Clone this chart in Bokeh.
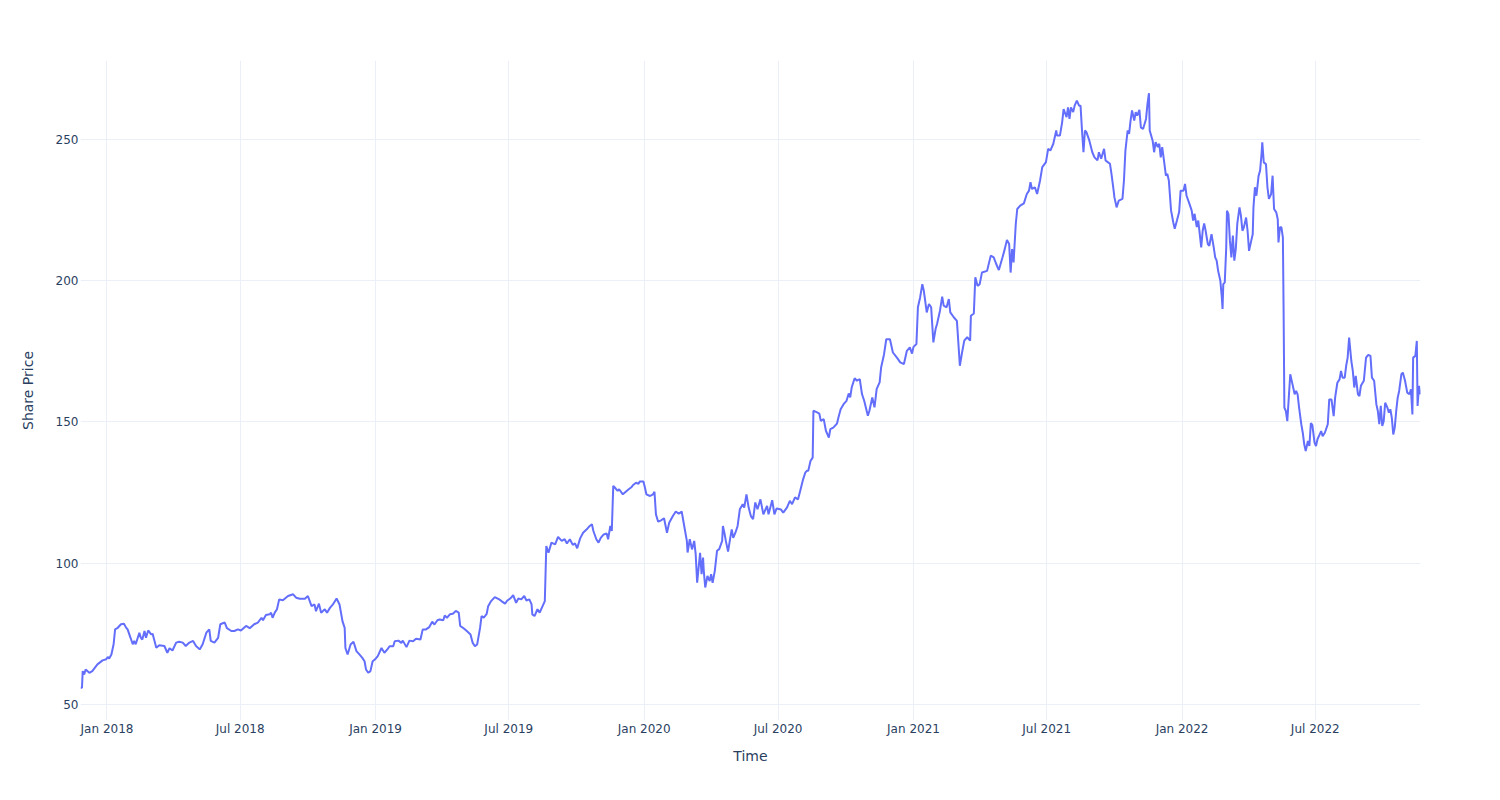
import numpy as np
import pandas as pd
from bokeh.plotting import figure
from bokeh.models import Range1d, FixedTicker, DatetimeTickFormatter
from bokeh.embed import file_html
from bokeh.resources import INLINE

# Share price series: days since 2018-01-01 and price, by section
days_2018 = [-36,-34,-33,-31,-29,-24,-20,-13,-6,-1,1,3,6,9,11,14,19,23,26,28,32,35,37,39,44,46,48,51,53,56,60,62,67,71,78,82,85,89,94,98,103,107,112,117,121,126,130,135,139,141,146,151,154,160,163,169,173,178,182,189,194,200,205,210,212,216,221,223,225,228,231,234,239,246,253,257]
price_2018 = [55.9,55.9,61.8,60.6,62.4,61.2,61.8,64.2,65.6,66.0,66.8,66.3,67.7,71.3,76.6,77.0,78.4,78.6,77.2,76.6,73.6,71.3,72.5,71.3,75.4,73.6,73.0,76.0,73.6,76.2,74.8,75.0,70.1,71.0,70.7,68.3,69.9,69.1,71.9,72.2,71.9,70.7,71.9,72.5,70.7,69.5,71.3,75.4,76.6,72.5,71.9,73.6,78.4,79.0,77.0,76.0,76.0,76.6,76.2,77.8,77.0,78.4,79.0,80.7,79.8,81.7,81.9,82.5,80.7,82.5,83.7,87.2,86.9,88.4,89.0,87.8]

days_2019 = [262,269,273,278,282,284,288,291,296,299,303,307,312,316,320,323,324,327,331,335,339,343,347,350,352,355,358,361,364,368,373,377,381,384,389,391,396,400,402,407,411,416,420,426,429,433,438,442,445,449,452,457,459,462,466,470,474,478,480,485,489,494,497,500,503,507,509,512,516,518,522,527,533,536,541,544,548,552,556,559,563,567,570,574,577,578,581,585,588]
price_2019 = [87.4,87.4,88.4,84.8,85.4,83.0,85.7,82.5,83.7,82.5,84.2,85.4,87.5,85.4,79.5,77.1,70.0,67.7,71.2,72.2,68.9,67.7,66.5,65.3,62.4,61.2,61.8,65.3,65.9,67.1,70.0,68.3,69.5,70.6,70.6,72.4,72.6,71.8,72.6,70.3,72.6,72.4,73.3,73.0,76.5,76.5,77.4,79.3,78.3,79.8,80.1,79.8,81.5,80.7,81.9,82.1,83.1,82.5,77.8,76.9,76.0,74.8,71.8,70.6,71.2,77.1,81.3,80.7,82.1,84.8,86.6,88.0,87.2,86.6,85.7,86.8,87.5,88.7,86.0,87.5,87.2,88.4,86.8,87.2,85.4,81.9,81.3,83.7,82.5]

days_2020 = [595,597,600,604,609,613,618,622,625,629,633,636,639,643,647,652,656,659,661,665,668,671,675,679,681,684,686,688,690,694,696,701,705,709,713,715,719,722,724,729,731,733,738,742,744,746,749,753,757,761,764,769,773,777,781,784,788,789,792,795,798,800,802,804,806,808,810,811,813,816,819,821,823,826,829,832,836,837,839,841,844,847,849,851,854,857,860,864,866,869,872,875,878,881,884]
price_2020 = [86.6,106.1,103.7,107.3,106.7,109.3,107.9,108.5,107.0,108.5,106.5,107.0,105.3,108.8,110.8,112.0,113.2,113.8,111.4,108.5,107.3,109.0,110.2,110.5,108.5,113.2,111.4,127.4,126.8,125.6,126.2,124.4,125.3,126.2,127.0,127.7,128.5,128.1,128.9,128.9,126.8,124.4,123.8,124.4,125.3,117.3,114.7,115.2,115.9,110.8,114.3,116.7,118.3,117.5,118.3,113.8,107.9,103.8,108.5,104.9,107.9,103.2,93.1,98.4,103.7,96.1,102.0,97.3,91.4,95.5,93.7,96.1,93.1,97.3,104.4,105.0,107.9,113.2,110.8,107.9,104.1,109.0,112.0,109.0,110.8,113.2,119.1,120.9,119.7,124.4,119.7,116.7,115.6,121.5,119.1]

days_2021a = [888,892,897,899,904,907,910,916,919,924,928,931,935,939,942,946,949,951,953,956,959,960,965,968,970,974,977,981,983,987,992,994,997,1001,1005,1008,1010,1012,1016,1019,1023,1026,1029,1034,1036,1040,1043,1046,1050,1052,1056,1059,1064,1068,1074,1078,1083,1087,1091,1094,1096,1100,1102,1105,1108,1110,1114,1117,1120,1123,1126,1128,1132,1135,1137,1141,1144,1146,1151,1155,1158,1159,1162,1165,1169,1173,1174,1178,1180,1183,1186,1189,1196]
price_2021a = [122.6,117.3,120.3,117.3,122.3,117.3,119.4,119.0,117.9,119.7,122.1,120.9,123.3,122.6,125.6,129.7,132.1,132.7,132.7,136.2,137.4,154.0,153.4,153.0,150.4,151.0,146.9,144.5,147.5,148.0,149.4,151.6,154.5,156.3,157.5,160.1,158.7,162.2,165.5,164.6,165.2,159.9,157.5,152.2,153.9,158.7,155.2,161.7,164.0,169.3,174.0,179.3,179.3,174.6,172.6,171.1,170.5,175.2,176.4,174.2,176.6,177.6,190.6,194.1,198.8,196.5,188.8,191.8,190.6,178.2,182.9,184.7,189.4,194.4,191.2,190.6,193.5,188.8,187.0,185.8,174.0,169.9,174.6,178.8,180.0,178.8,187.6,188.4,201.2,198.2,198.8,202.9,203.5]

days_2021b = [1201,1205,1208,1212,1217,1220,1223,1226,1228,1230,1232,1235,1237,1241,1246,1250,1253,1255,1257,1261,1264,1268,1271,1276,1279,1282,1286,1290,1291,1295,1298,1300,1304,1306,1308,1310,1313,1315,1318,1321,1323,1325,1327,1329,1331,1335,1339,1342,1346,1348,1351,1355,1357,1360,1363,1365,1368,1369,1372,1375,1380,1382,1384,1387,1389,1391,1393,1396,1398,1400,1403,1405,1408,1412,1414,1416,1417,1421,1423,1425,1428,1430,1432,1434,1437,1439,1441,1443,1446,1449,1451,1454,1457,1459,1463,1465,1467,1471,1474,1476,1478,1481,1483,1486]
price_2021b = [208.9,208.3,206.2,203.8,208.3,211.2,214.4,213.0,202.9,211.2,206.5,220.1,225.4,226.6,227.4,230.7,231.9,234.9,232.5,233.1,230.7,235.5,240.2,242.0,246.7,246.1,248.5,253.2,251.4,251.4,256.1,260.8,257.9,261.4,257.3,261.4,259.7,262.0,263.8,262.0,262.0,253.2,245.5,253.2,252.6,249.6,245.5,243.7,242.6,245.5,243.2,246.7,242.6,242.0,241.4,237.9,231.9,229.6,226.0,228.4,229.0,235.5,246.1,253.2,252.0,256.7,260.3,256.7,259.7,258.5,260.5,254.3,253.7,257.3,262.6,266.4,253.2,249.6,245.5,249.1,247.3,248.5,243.7,247.3,241.4,237.2,237.8,235.5,224.9,220.7,218.4,221.3,224.3,231.9,231.9,234.3,230.2,227.2,224.9,221.3,223.7,219.0,221.3,214.2]

days_2022 = [1487,1489,1491,1493,1496,1498,1501,1504,1506,1508,1510,1513,1515,1516,1517,1519,1521,1522,1524,1526,1528,1530,1532,1534,1536,1539,1541,1543,1545,1548,1550,1552,1555,1557,1558,1560,1562,1565,1567,1569,1570,1572,1575,1577,1579,1582,1584,1586,1589,1591,1592,1594,1596,1598,1599,1600,1602,1604,1606,1608,1611,1614,1616,1618,1620,1623,1625,1627,1629,1632,1634,1636,1638,1641,1643,1645,1648,1650,1652,1655,1659,1661,1664,1667,1669,1672,1675,1677,1679,1682,1684,1686,1688,1691,1693,1695,1697,1700,1702,1704,1708,1711,1714,1717,1719,1722,1725,1727,1729,1731,1733,1735,1737,1740,1742,1744,1746,1748,1750,1752,1754,1756,1759,1761,1764,1767,1770,1772,1774,1775,1778,1780,1781,1783,1785]
price_2022 = [211.8,217.7,220.3,217.7,213.0,212.4,216.5,211.8,208.3,207.1,203.5,200.0,194.1,190.0,198.8,199.4,211.8,224.8,223.6,214.2,208.3,216.0,207.1,211.3,220.1,226.0,223.0,217.7,218.9,222.4,217.7,210.6,214.2,216.5,226.0,233.1,230.1,237.2,239.0,244.9,249.0,241.9,241.3,233.1,229.0,230.7,237.2,225.4,224.2,221.8,213.6,218.9,218.9,215.3,188.1,155.1,153.9,150.3,158.6,166.9,163.4,159.8,161.0,159.8,155.1,149.2,146.2,142.1,139.7,143.3,141.5,149.6,149.0,142.7,141.5,143.9,145.6,146.8,145.0,146.2,149.2,158.0,158.0,152.1,158.6,163.9,165.1,168.1,165.7,165.7,169.9,172.8,179.9,171.6,168.1,162.2,166.3,159.8,159.2,162.8,164.6,172.8,173.8,173.4,165.7,164.6,156.3,153.9,149.2,155.7,148.6,150.3,156.8,155.1,153.3,154.5,151.5,145.6,148.0,153.9,158.6,161.0,166.9,167.5,164.6,160.4,159.8,161.6,152.7,172.8,173.4,178.7,155.7,162.8,159.8]

base_date = "2018-01-01"
tick_dates = ["2018-01-01", "2018-07-01", "2019-01-01", "2019-07-01", "2020-01-01",
              "2020-07-01", "2021-01-01", "2021-07-01", "2022-01-01", "2022-07-01"]
y_ticks = [50, 100, 150, 200, 250]

days = days_2018 + days_2019 + days_2020 + days_2021a + days_2021b + days_2022
price = price_2018 + price_2019 + price_2020 + price_2021a + price_2021b + price_2022

dates = pd.Timestamp(base_date) + pd.to_timedelta(days, unit="D")
epoch = pd.Timestamp("1970-01-01")
tick_ms = [(pd.Timestamp(t) - epoch) // pd.Timedelta(milliseconds=1) for t in tick_dates]

FONT = "DejaVu Sans"
TXT = "#2a3f5f"
GRID = "#EBF0F8"

pmin, pmax = min(price), max(price)
pad = 0.055 * (pmax - pmin)

p = figure(width=1500, height=800, x_axis_type="datetime",
           output_backend="svg", toolbar_location=None,
           x_range=Range1d(start=dates[0].to_pydatetime(), end=dates[-1].to_pydatetime()),
           y_range=Range1d(start=pmin - pad, end=pmax + pad),
           min_border_left=80, min_border_right=80, min_border_top=60, min_border_bottom=80)

p.line(dates, price, line_color="#636efa", line_width=2)

p.outline_line_color = None
p.background_fill_color = "white"
p.border_fill_color = "white"

p.xaxis.ticker = FixedTicker(ticks=tick_ms)
p.xaxis.formatter = DatetimeTickFormatter(days="%b %Y", months="%b %Y", years="%b %Y",
                                          hours="%b %Y", hourmin="%b %Y")
p.yaxis.ticker = FixedTicker(ticks=y_ticks)

for ax in (p.xaxis, p.yaxis):
    ax.axis_line_color = None
    ax.major_tick_line_color = None
    ax.minor_tick_line_color = None
    ax.major_tick_out = 0
    ax.major_tick_in = 0
    ax.minor_tick_out = 0
    ax.minor_tick_in = 0
    ax.major_label_text_font = FONT
    ax.major_label_text_font_size = "12px"
    ax.major_label_text_color = TXT
    ax.axis_label_text_font = FONT
    ax.axis_label_text_font_size = "14px"
    ax.axis_label_text_color = TXT
    ax.axis_label_text_font_style = "normal"

p.xaxis.axis_label = "Time"
p.yaxis.axis_label = "Share Price"
p.xaxis.major_label_standoff = 1
p.yaxis.major_label_standoff = 2
p.xaxis.axis_label_standoff = 9
p.yaxis.axis_label_standoff = 17

p.xgrid.grid_line_color = GRID
p.ygrid.grid_line_color = GRID
p.xgrid.grid_line_width = 1
p.ygrid.grid_line_width = 1

open("out.html", "w").write(file_html(p, INLINE))
